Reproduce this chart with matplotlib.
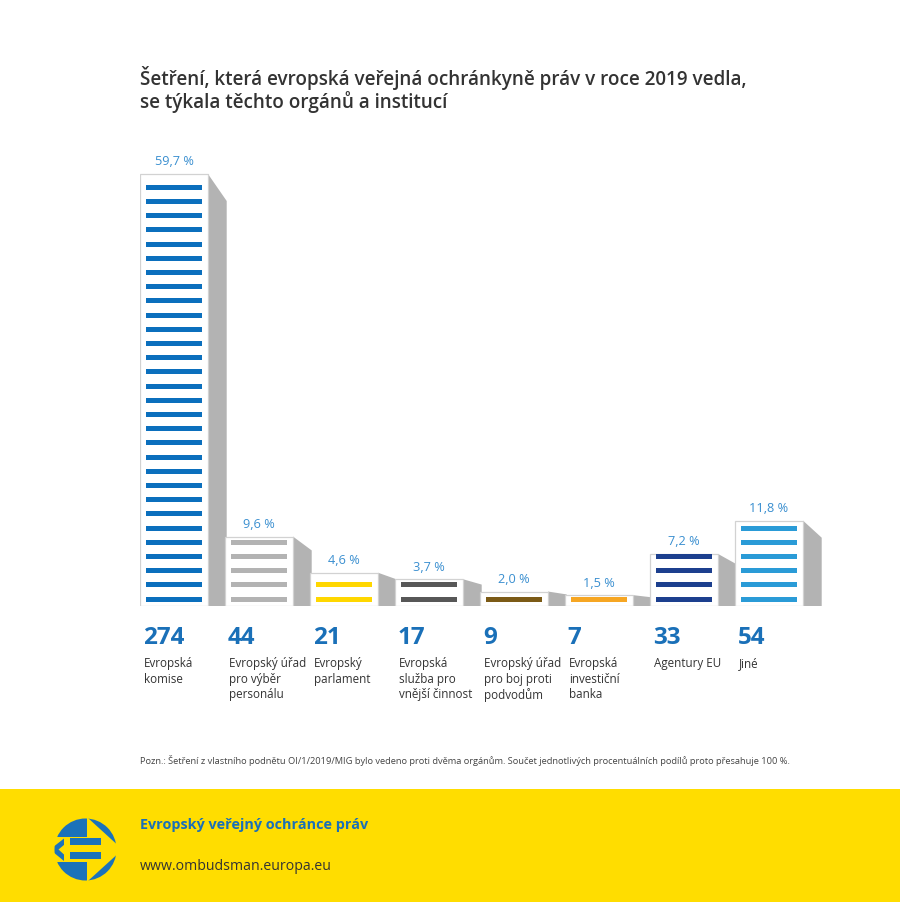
import matplotlib
matplotlib.use("Agg")
import matplotlib.pyplot as plt
from matplotlib.patches import Rectangle, Polygon, Circle

# ---------------- data ----------------
categories = [
    "Evropská\nkomise",
    "Evropský úřad\npro výběr\npersonálu",
    "Evropský\nparlament",
    "Evropská\nslužba pro\nvnější činnost",
    "Evropský úřad\npro boj proti\npodvodům",
    "Evropská\ninvestiční\nbanka",
    "Agentury EU",
    "Jiné",
]
counts = [274, 44, 21, 17, 9, 7, 33, 54]
percents = [59.7, 9.6, 4.6, 3.7, 2.0, 1.5, 7.2, 11.8]
pct_labels = ["59,7 %", "9,6 %", "4,6 %", "3,7 %", "2,0 %", "1,5 %", "7,2 %", "11,8 %"]
stripe_colors = ["#0b6fbd", "#b3b3b3", "#ffd700", "#575757",
                 "#7b5a16", "#f6a623", "#1c3f8e", "#2a9bd7"]

title_lines = ["Šetření, která evropská veřejná ochránkyně práv v roce 2019 vedla,",
               "se týkala těchto orgánů a institucí"]
note = ("Pozn.: Šetření z vlastního podnětu OI/1/2019/MIG bylo vedeno proti dvěma orgánům. "
        "Součet jednotlivých procentuálních podílů proto přesahuje 100 %.")
footer_name = "Evropský veřejný ochránce práv"
footer_url = "www.ombudsman.europa.eu"

FONT = ["Open Sans", "DejaVu Sans"]
plt.rcParams["font.family"] = FONT

W, H = 900, 903
fig = plt.figure(figsize=(W / 100, H / 100), dpi=100)
fig.patch.set_facecolor("white")

# background / decoration layer in pixel coordinates (y downward)
bg = fig.add_axes([0, 0, 1, 1])
bg.set_xlim(0, W)
bg.set_ylim(H, 0)
bg.axis("off")

YELLOW = "#ffdd00"
LOGO_BLUE = "#1b72ba"
bg.add_patch(Rectangle((0, 790), W, H - 790, facecolor=YELLOW, edgecolor="none", zorder=0))

# logo
cx, cy, R = 85.5, 850.5, 31
clip = Circle((cx, cy), R, transform=bg.transData)
pieces = [
    [(40, 805), (86.5, 805), (86.5, 838.3), (40, 838.3)],
    [(88.5, 805), (88.5, 819.5), (116.5, 845.0), (125, 845.0), (125, 805)],
    [(40, 863.5), (86.5, 863.5), (86.5, 895), (40, 895)],
    [(88.5, 895), (88.5, 881.5), (116.5, 856.0), (125, 856.0), (125, 895)],
    [(70, 839.5), (100.5, 839.5), (100.5, 846.3), (70, 846.3)],
    [(70, 853.5), (100.5, 853.5), (100.5, 860.5), (70, 860.5)],
]
for pts in pieces:
    p = Polygon(pts, closed=True, facecolor=LOGO_BLUE, edgecolor="none", zorder=2)
    bg.add_patch(p)
    p.set_clip_path(clip)
chev = Polygon([(64, 839.5), (50, 850.5), (64, 862)], closed=True,
               facecolor=LOGO_BLUE, edgecolor="none", zorder=2)
bg.add_patch(chev)
chev.set_clip_path(clip)
chev_in = Polygon([(64.5, 845.5), (58.5, 850.5), (64.5, 856)], closed=True,
                  facecolor=YELLOW, edgecolor="none", zorder=3)
bg.add_patch(chev_in)

# texts (pixel coords)
for k, line in enumerate(title_lines):
    bg.text(140, 85 + 23 * k, line, fontsize=13.6, fontweight="semibold",
            color="#333333", va="baseline", ha="left")
bg.text(140, 764, note, fontsize=6.7, color="#444444", va="baseline", ha="left")
bg.text(140, 829, footer_name, fontsize=10.4, fontweight="bold", color="#1a6fb8",
        va="baseline", ha="left")
bg.text(140, 870, footer_url, fontsize=10.2, color="#333333", va="baseline", ha="left")

# ---------------- chart ----------------
PX_PER_UNIT = 432 / 59.7
ax_left, ax_bottom_px, ax_top_px = 140, 607, 140
ax = fig.add_axes([ax_left / W, 1 - ax_bottom_px / H, 697 / W, (ax_bottom_px - ax_top_px) / H])
ax.set_xlim(-0.4, 7.8)
ax.set_ylim(0, (ax_bottom_px - ax_top_px) / PX_PER_UNIT)
ax.axis("off")
ax.patch.set_alpha(0)

bw = 0.8
sw = 0.22
stripe_off = 7 / PX_PER_UNIT
stripe_gap = 14.2 / PX_PER_UNIT
stripe_h = 5 / PX_PER_UNIT
stripe_inset = 6 / 85

for i, (v, col) in enumerate(zip(percents, stripe_colors)):
    x0 = i - bw / 2
    x1 = i + bw / 2
    hpx = v * PX_PER_UNIT
    drop = min(0.2 * hpx, 27) / PX_PER_UNIT
    ax.add_patch(Polygon([(x1, v), (x1 + sw, v - drop), (x1 + sw, 0), (x1, 0)],
                         closed=True, facecolor="#b3b3b3", edgecolor="none", zorder=2))
    ax.add_patch(Rectangle((x0, 0), bw, v, facecolor="white", edgecolor="#d2d2d2",
                           linewidth=0.9, zorder=3))
    k = 0
    while (7 + 14.2 * k + 2.5) <= hpx + 1:
        yc = stripe_off + k * stripe_gap
        ax.add_patch(Rectangle((x0 + stripe_inset, yc - stripe_h / 2),
                               bw - 2 * stripe_inset, stripe_h,
                               facecolor=col, edgecolor="none", zorder=4))
        k += 1
    ax.annotate(pct_labels[i], (i, v), xytext=(0, 9.4), textcoords="offset points",
                ha="center", va="center", fontsize=9.2, color="#3a8fd0",
                annotation_clip=False)
    ax.annotate(str(counts[i]), (x0, H - 638), xycoords=("data", "figure pixels"),
                xytext=(2, 0), textcoords="offset points",
                ha="left", va="center", fontsize=17.5, fontweight="bold",
                color="#1a70b8", annotation_clip=False)
    for j, line in enumerate(categories[i].split("\n")):
        ax.annotate(line, (x0, H - 664 - 15.5 * j), xycoords=("data", "figure pixels"),
                    xytext=(3, 0), textcoords="offset points",
                    ha="left", va="center", fontsize=8.4, color="#333333",
                    annotation_clip=False)

fig.savefig("out.png", dpi=100, facecolor="white")
